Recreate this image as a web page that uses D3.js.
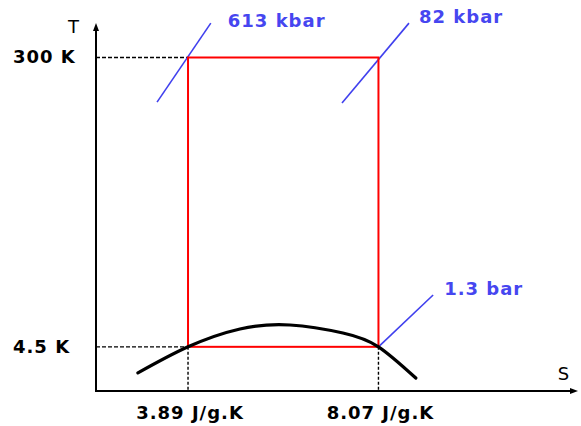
<!DOCTYPE html>
<html>
<head>
<meta charset="utf-8">
<script src="https://cdn.jsdelivr.net/npm/d3@7"></script>
<style>
  body { margin: 0; background: #fff; }
  text { font-family: "DejaVu Sans", Verdana, sans-serif; font-weight: bold; font-size: 18px; letter-spacing: 1px; }
</style>
</head>
<body>
<script>
// Set up size
var width = 581;
var height = 426;

// axis extents (entropy S in J/g.K, temperature T in K, log scale)
var sExtent = [1.87, 12.45];
var tExtent = [2.37, 495];

// cycle corners
var sCycle = [3.89, 8.07];
var tCycle = [4.5, 300];

// tick labels
var tTicks = [{v: 300, label: "300 K"}, {v: 4.5, label: "4.5 K"}];
var sTicks = [{v: 3.89, label: "3.89 J/g.K"}, {v: 8.07, label: "8.07 J/g.K"}];

// saturation dome
var domeS = [2.79, 3.89, 5.03, 6.13, 7.29, 8.07, 8.89];
var domeT = [3.08, 4.5, 5.83, 6.18, 5.50, 4.5, 2.86];

// isobars: two points each
var isobars = [
  {label: "613 kbar", s: [3.21, 4.39], t: [157, 494], dx: 17, dy: 4},
  {label: "82 kbar",  s: [7.27, 8.74], t: [155, 494], dx: 10, dy: 0},
  {label: "1.3 bar",  s: [8.07, 9.27], t: [4.5, 9.55], dx: 11, dy: 0}
];

var x = d3.scaleLinear().domain(sExtent).range([96, 578]);
var y = d3.scaleLog().domain(tExtent).range([391, 23]);

var svg = d3.select('body').append('svg')
  .attr('width', width)
  .attr('height', height);

// guide lines to the axes
var guides = svg.append('g').attr('fill', 'none').attr('stroke', '#000').attr('stroke-width', 1.4);
tCycle.forEach(function (t) {
  guides.append('line')
    .attr('x1', x(sExtent[0])).attr('x2', x(sCycle[0]))
    .attr('y1', y(t)).attr('y2', y(t))
    .attr('stroke-dasharray', '4,2');
});
sCycle.forEach(function (s) {
  guides.append('line')
    .attr('x1', x(s)).attr('x2', x(s))
    .attr('y1', y(tCycle[0])).attr('y2', y(tExtent[0]))
    .attr('stroke-dasharray', '3,2');
});

// axes with arrows
var axes = svg.append('g').attr('stroke', '#000').attr('stroke-width', 2);
axes.append('line')
  .attr('x1', x(sExtent[0])).attr('x2', x(sExtent[0]))
  .attr('y1', y(tExtent[0])).attr('y2', y(tExtent[1]) + 4);
axes.append('line')
  .attr('x1', x(sExtent[0]) - 1).attr('x2', x(sExtent[1]) - 4)
  .attr('y1', y(tExtent[0])).attr('y2', y(tExtent[0]));
var ax0 = x(sExtent[0]), ay1 = y(tExtent[1]);
svg.append('path')
  .attr('d', 'M' + ax0 + ',' + ay1 + 'l-3,8h6z')
  .attr('fill', '#000');
var bx1 = x(sExtent[1]), by0 = y(tExtent[0]);
svg.append('path')
  .attr('d', 'M' + bx1 + ',' + by0 + 'l-8,-3v6z')
  .attr('fill', '#000');

// isobars
var line = d3.line().x(function (d) { return x(d[0]); }).y(function (d) { return y(d[1]); });
isobars.forEach(function (b) {
  svg.append('path')
    .attr('d', line(d3.zip(b.s, b.t)))
    .attr('fill', 'none')
    .attr('stroke', '#4040ee')
    .attr('stroke-width', 1.6);
  svg.append('text')
    .attr('x', x(b.s[1]) + b.dx)
    .attr('y', y(b.t[1]) + b.dy)
    .attr('fill', '#4646f0')
    .text(b.label);
});

// Carnot cycle rectangle
svg.append('rect')
  .attr('x', x(sCycle[0]))
  .attr('y', y(tCycle[1]))
  .attr('width', x(sCycle[1]) - x(sCycle[0]))
  .attr('height', y(tCycle[0]) - y(tCycle[1]))
  .attr('fill', 'none')
  .attr('stroke', '#ff0000')
  .attr('stroke-width', 2);

// dome
svg.append('path')
  .attr('d', line.curve(d3.curveNatural)(d3.zip(domeS, domeT)))
  .attr('fill', 'none')
  .attr('stroke', '#000')
  .attr('stroke-width', 3.2)
  .attr('stroke-linecap', 'round');

// tick labels
svg.selectAll('.tlab')
  .data(tTicks)
  .enter()
  .append('text')
  .attr('x', 13)
  .attr('y', function (d) { return y(d.v) + 6; })
  .text(function (d) { return d.label; });

svg.selectAll('.slab')
  .data(sTicks)
  .enter()
  .append('text')
  .attr('x', function (d) { return x(d.v) + 2; })
  .attr('y', 419)
  .attr('text-anchor', 'middle')
  .text(function (d) { return d.label; });

// axis names
svg.append('text').attr('x', 74).attr('y', 33).attr('text-anchor', 'middle').style('font-weight', 'normal').text('T');
svg.append('text').attr('x', 564).attr('y', 380).attr('text-anchor', 'middle').style('font-weight', 'normal').text('S');
</script>
</body>
</html>
